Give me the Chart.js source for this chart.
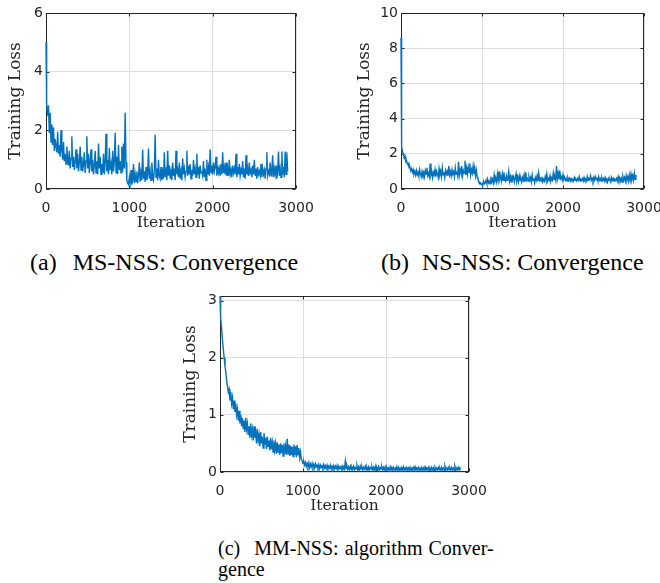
<!DOCTYPE html>
<html>
<head>
<meta charset="utf-8">
<script src="https://cdn.jsdelivr.net/npm/chart.js@4.4.1/dist/chart.umd.min.js"></script>
<style>
  html, body { margin: 0; padding: 0; background: #fff; }
  body { width: 660px; height: 583px; position: relative; overflow: hidden; }
  canvas { position: absolute; }
  .legenda { position: absolute; font-family: "Liberation Serif", "Times New Roman", serif; color: #000; white-space: nowrap; }
</style>
</head>
<body>
<canvas id="graficoMS" width="320" height="240" style="left:0px;top:0px;width:320px;height:240px"></canvas>
<canvas id="graficoNS" width="305" height="240" style="left:355px;top:0px;width:305px;height:240px"></canvas>
<canvas id="graficoMM" width="320" height="240" style="left:174px;top:283px;width:320px;height:240px"></canvas>

<div class="legenda" style="left:30px;top:250px;font-size:24px;line-height:24px">(a)<span style="margin-left:16px">MS-NSS: Convergence</span></div>
<div class="legenda" style="left:381px;top:250px;font-size:24px;line-height:24px">(b)<span style="margin-left:13px">NS-NSS: Convergence</span></div>
<div class="legenda" style="left:218px;top:538px;font-size:20px;line-height:21.3px">(c)<span style="margin-left:14px;word-spacing:1px">MM-NSS: algorithm Conver-</span><br>gence</div>

<script>
// amostras de iteração (comuns aos três gráficos)
const iteracoes = [
  0, 5, 10, 20, 30, 40, 50, 60, 70, 80,
  90, 100, 110, 120, 130, 140, 150, 160, 170, 180,
  190, 200, 210, 220, 230, 240, 250, 260, 270, 280,
  290, 300, 310, 320, 330, 340, 350, 360, 370, 380,
  390, 400, 410, 420, 430, 440, 450, 460, 470, 480,
  490, 500, 510, 520, 530, 540, 550, 560, 570, 580,
  590, 600, 610, 620, 630, 640, 650, 660, 670, 680,
  690, 700, 710, 720, 730, 740, 750, 760, 770, 780,
  790, 800, 810, 820, 830, 840, 850, 860, 870, 880,
  890, 900, 910, 920, 930, 940, 950, 960, 970, 980,
  990, 1000, 1010, 1020, 1030, 1040, 1050, 1060, 1070, 1080,
  1090, 1100, 1110, 1120, 1130, 1140, 1150, 1160, 1170, 1180,
  1190, 1200, 1210, 1220, 1230, 1240, 1250, 1260, 1270, 1280,
  1290, 1300, 1310, 1320, 1330, 1340, 1350, 1360, 1370, 1380,
  1390, 1400, 1410, 1420, 1430, 1440, 1450, 1460, 1470, 1480,
  1490, 1500, 1510, 1520, 1530, 1540, 1550, 1560, 1570, 1580,
  1590, 1600, 1610, 1620, 1630, 1640, 1650, 1660, 1670, 1680,
  1690, 1700, 1710, 1720, 1730, 1740, 1750, 1760, 1770, 1780,
  1790, 1800, 1810, 1820, 1830, 1840, 1850, 1860, 1870, 1880,
  1890, 1900, 1910, 1920, 1930, 1940, 1950, 1960, 1970, 1980,
  1990, 2000, 2010, 2020, 2030, 2040, 2050, 2060, 2070, 2080,
  2090, 2100, 2110, 2120, 2130, 2140, 2150, 2160, 2170, 2180,
  2190, 2200, 2210, 2220, 2230, 2240, 2250, 2260, 2270, 2280,
  2290, 2300, 2310, 2320, 2330, 2340, 2350, 2360, 2370, 2380,
  2390, 2400, 2410, 2420, 2430, 2440, 2450, 2460, 2470, 2480,
  2490, 2500, 2510, 2520, 2530, 2540, 2550, 2560, 2570, 2580,
  2590, 2600, 2610, 2620, 2630, 2640, 2650, 2660, 2670, 2680,
  2690, 2700, 2710, 2720, 2730, 2740, 2750, 2760, 2770, 2780,
  2790, 2800, 2810, 2820, 2830, 2840, 2850, 2860, 2870, 2880,
  2890, 2900
];

// (a) MS-NSS
const perdaMS = [
  5.0, 3.3, 2.9, 2.5, 2.85, 1.9, 2.6, 1.6, 2.2, 1.5,
  2.1, 1.3, 1.7, 1.45, 1.25, 1.95, 1.2, 1.5, 1.1, 2.0,
  1.3, 1.0, 1.6, 0.95, 1.2, 0.85, 1.45, 1.05, 0.8, 1.3,
  0.7, 1.05, 1.8, 0.75, 1.1, 0.65, 0.95, 1.35, 0.7, 1.2,
  0.6, 0.9, 1.45, 0.65, 1.1, 0.6, 0.85, 1.25, 0.55, 0.95,
  1.8, 0.7, 1.2, 0.55, 0.9, 1.35, 0.6, 1.0, 0.5, 0.8,
  1.3, 0.55, 0.95, 0.5, 1.55, 0.7, 1.1, 0.5, 0.85, 0.55,
  1.2, 0.5, 0.9, 1.88, 0.6, 1.0, 0.5, 1.4, 0.65, 0.85,
  0.5, 1.3, 0.6, 0.95, 1.92, 0.55, 1.1, 0.5, 1.5, 0.65,
  0.95, 0.55, 1.45, 0.6, 1.55, 0.7, 2.6, 0.9, 0.3, 0.2,
  0.15, 0.4, 0.2, 0.65, 0.15, 0.3, 0.85, 0.2, 0.5, 0.25,
  0.6, 0.2, 0.45, 0.9, 0.25, 0.55, 0.3, 1.35, 0.35, 0.6,
  0.25, 0.75, 0.3, 0.5, 1.38, 0.35, 0.6, 0.3, 0.9, 0.4,
  0.3, 0.65, 1.85, 0.4, 0.7, 0.3, 1.0, 0.45, 0.35, 0.75,
  0.3, 0.55, 0.35, 1.25, 0.4, 0.6, 0.3, 1.3, 0.45, 0.8,
  0.35, 0.6, 0.3, 0.9, 0.45, 0.7, 0.3, 1.3, 0.5, 0.65,
  0.4, 0.9, 0.35, 0.6, 0.3, 1.05, 0.5, 0.7, 0.4, 0.6,
  1.3, 0.45, 0.8, 0.5, 0.85, 0.35, 0.65, 0.45, 1.0, 0.5,
  0.7, 0.4, 1.2, 0.5, 0.75, 0.35, 0.8, 0.55, 0.6, 0.45,
  0.95, 0.4, 0.7, 0.3, 1.0, 0.5, 0.75, 0.45, 1.35, 0.55,
  0.8, 0.5, 0.9, 0.6, 0.75, 1.1, 0.45, 0.8, 0.55, 0.7,
  0.45, 0.85, 0.5, 1.25, 0.55, 0.75, 0.5, 0.9, 0.45, 0.7,
  0.45, 1.0, 0.5, 0.65, 0.4, 0.8, 0.55, 0.7, 0.5, 1.2,
  0.4, 0.75, 0.5, 0.85, 0.45, 0.65, 0.5, 0.95, 0.4, 0.7,
  0.35, 1.15, 0.5, 0.7, 0.45, 0.9, 0.55, 0.65, 0.4, 0.8,
  0.5, 1.0, 0.45, 0.7, 0.35, 0.75, 0.5, 0.6, 0.45, 0.85,
  0.4, 0.7, 0.5, 0.65, 0.35, 0.7, 1.25, 0.45, 0.6, 0.5,
  0.9, 0.45, 0.65, 1.15, 0.4, 0.7, 0.5, 0.8, 0.35, 0.6,
  1.28, 0.45, 0.7, 0.4, 1.28, 0.5, 0.75, 0.4, 1.28, 0.5,
  1.25, 0.6
];

// (b) NS-NSS
const perdaNS = [
  8.6, 4.5, 2.4, 2.1, 2.0, 1.75, 1.85, 1.55, 1.6, 1.4,
  1.45, 1.2, 1.25, 1.05, 1.15, 0.95, 1.1, 0.85, 1.0, 0.8,
  1.05, 0.8, 0.95, 0.75, 1.1, 0.85, 0.7, 1.0, 0.8, 0.95,
  0.7, 1.05, 0.85, 1.2, 0.75, 0.9, 0.7, 1.45, 0.8, 1.0,
  0.65, 0.95, 0.8, 1.1, 0.7, 1.0, 0.85, 0.65, 1.15, 0.8,
  1.0, 0.7, 1.2, 0.8, 0.95, 0.65, 1.05, 0.85, 1.0, 0.75,
  1.3, 0.8, 1.0, 0.75, 1.1, 0.85, 0.95, 0.7, 1.2, 0.85,
  1.0, 0.75, 1.55, 0.8, 1.1, 0.9, 1.3, 0.75, 1.05, 0.9,
  1.6, 0.8, 1.2, 0.85, 1.25, 0.95, 1.45, 0.8, 1.1, 0.9,
  1.3, 0.85, 1.2, 0.75, 1.05, 0.7, 0.55, 0.45, 0.3, 0.35,
  0.25, 0.3, 0.25, 0.45, 0.3, 0.35, 0.5, 0.3, 0.55, 0.35,
  0.45, 0.3, 0.7, 0.4, 0.55, 0.35, 0.8, 0.45, 0.6, 0.4,
  0.85, 0.5, 1.0, 0.55, 0.7, 0.45, 0.85, 0.5, 0.95, 0.55,
  0.45, 0.75, 0.5, 0.65, 1.0, 0.45, 0.7, 0.4, 0.8, 0.55,
  0.7, 0.4, 0.6, 0.85, 0.45, 0.65, 0.4, 0.75, 0.5, 0.6,
  0.4, 0.65, 0.5, 0.8, 0.4, 0.95, 0.5, 0.6, 0.45, 0.7,
  0.5, 0.65, 0.4, 0.8, 0.5, 0.6, 0.35, 0.65, 0.5, 0.75,
  0.45, 0.9, 0.5, 0.6, 0.45, 0.7, 0.4, 0.55, 0.45, 0.7,
  0.5, 0.85, 0.45, 0.6, 0.5, 0.75, 0.45, 0.6, 0.5, 0.9,
  0.55, 0.7, 0.5, 1.3, 0.6, 0.9, 0.55, 1.05, 0.6, 0.7,
  0.5, 0.8, 0.55, 0.65, 0.5, 0.6, 0.45, 0.65, 0.5, 0.6,
  0.45, 0.6, 0.5, 0.55, 0.45, 0.65, 0.5, 0.55, 0.45, 0.6,
  0.5, 0.7, 0.45, 0.55, 0.5, 0.6, 0.45, 0.65, 0.5, 0.55,
  0.45, 0.7, 0.5, 0.6, 0.55, 0.75, 0.5, 0.6, 0.45, 0.65,
  0.5, 0.7, 0.55, 0.6, 0.45, 0.7, 0.5, 0.6, 0.45, 0.65,
  0.5, 0.6, 0.45, 0.65, 0.5, 0.55, 0.4, 0.6, 0.5, 0.55,
  0.4, 0.65, 0.5, 0.6, 0.45, 0.55, 0.5, 0.6, 0.45, 0.7,
  0.5, 0.65, 0.45, 0.6, 0.4, 0.7, 0.5, 0.65, 0.45, 0.75,
  0.5, 0.7, 0.45, 0.8, 0.5, 0.85, 0.55, 0.75, 0.5, 0.9,
  0.55, 0.8
];

// (c) MM-NSS
const perdaMM = [
  3.08, 2.9, 2.7, 2.5, 2.3, 2.15, 2.0, 1.85, 1.75, 1.6,
  1.5, 1.4, 1.45, 1.25, 1.4, 1.2, 1.3, 1.1, 1.25, 1.05,
  1.2, 1.0, 1.1, 0.9, 1.07, 0.85, 1.0, 0.8, 0.95, 0.75,
  0.9, 0.7, 0.95, 0.75, 0.85, 0.65, 0.8, 0.6, 0.85, 0.65,
  0.75, 0.55, 0.8, 0.6, 0.7, 0.5, 0.75, 0.55, 0.65, 0.45,
  0.7, 0.5, 0.62, 0.42, 0.68, 0.48, 0.6, 0.4, 0.62, 0.45,
  0.55, 0.38, 0.6, 0.4, 0.52, 0.35, 0.55, 0.38, 0.5, 0.32,
  0.52, 0.35, 0.48, 0.3, 0.5, 0.33, 0.47, 0.28, 0.5, 0.32,
  0.45, 0.3, 0.58, 0.32, 0.48, 0.28, 0.46, 0.3, 0.44, 0.27,
  0.48, 0.3, 0.45, 0.26, 0.47, 0.3, 0.42, 0.25, 0.35, 0.22,
  0.2, 0.15, 0.18, 0.12, 0.17, 0.1, 0.15, 0.09, 0.16, 0.08,
  0.14, 0.09, 0.15, 0.08, 0.13, 0.07, 0.14, 0.09, 0.12, 0.07,
  0.13, 0.06, 0.12, 0.08, 0.11, 0.06, 0.13, 0.07, 0.11, 0.06,
  0.12, 0.05, 0.1, 0.07, 0.12, 0.05, 0.1, 0.06, 0.11, 0.05,
  0.1, 0.06, 0.11, 0.04, 0.1, 0.06, 0.09, 0.05, 0.1, 0.04,
  0.09, 0.05, 0.19, 0.06, 0.1, 0.04, 0.09, 0.05, 0.1, 0.04,
  0.09, 0.05, 0.1, 0.04, 0.08, 0.05, 0.11, 0.04, 0.09, 0.03,
  0.1, 0.05, 0.09, 0.03, 0.08, 0.05, 0.1, 0.04, 0.08, 0.03,
  0.09, 0.04, 0.08, 0.05, 0.09, 0.03, 0.08, 0.04, 0.1, 0.03,
  0.08, 0.04, 0.09, 0.03, 0.08, 0.05, 0.09, 0.03, 0.08, 0.04,
  0.09, 0.03, 0.08, 0.04, 0.07, 0.03, 0.09, 0.04, 0.08, 0.03,
  0.08, 0.04, 0.07, 0.03, 0.09, 0.04, 0.08, 0.02, 0.07, 0.04,
  0.08, 0.03, 0.09, 0.04, 0.07, 0.03, 0.08, 0.04, 0.07, 0.02,
  0.08, 0.04, 0.07, 0.03, 0.08, 0.04, 0.09, 0.03, 0.07, 0.04,
  0.08, 0.03, 0.07, 0.04, 0.08, 0.02, 0.07, 0.04, 0.09, 0.03,
  0.07, 0.04, 0.08, 0.03, 0.07, 0.04, 0.08, 0.02, 0.07, 0.03,
  0.08, 0.04, 0.07, 0.03, 0.08, 0.04, 0.07, 0.03, 0.08, 0.04,
  0.07, 0.03, 0.1, 0.04, 0.07, 0.03, 0.08, 0.04, 0.07, 0.03,
  0.08, 0.04, 0.07, 0.03, 0.1, 0.04, 0.07, 0.03, 0.08, 0.04,
  0.07, 0.05
];

const COR_EIXO = '#262626';
const COR_GRADE = '#dedede';

// caixa fechada com marcas de escala para dentro (estilo MATLAB)
const caixaMatlab = {
    id: 'caixaMatlab',
    beforeDatasetsDraw(chart) {
        const { ctx, chartArea: a, scales } = chart;
        const esq = Math.round(a.left) + 0.5, dir = Math.round(a.right) - 0.5;
        const topo = Math.round(a.top) + 0.5, base = Math.round(a.bottom) - 0.5;
        const tam = 3;
        ctx.save();
        ctx.strokeStyle = COR_EIXO;
        ctx.lineWidth = 1;
        ctx.strokeRect(esq, topo, dir - esq, base - topo);
        ctx.beginPath();
        scales.x.ticks.forEach(t => {
            const px = Math.round(scales.x.getPixelForValue(t.value)) + 0.5;
            ctx.moveTo(px, base); ctx.lineTo(px, base - tam);
            ctx.moveTo(px, topo); ctx.lineTo(px, topo + tam);
        });
        scales.y.ticks.forEach(t => {
            const py = Math.round(scales.y.getPixelForValue(t.value)) + 0.5;
            ctx.moveTo(esq, py); ctx.lineTo(esq + tam, py);
            ctx.moveTo(dir, py); ctx.lineTo(dir - tam, py);
        });
        ctx.stroke();
        ctx.restore();
    }
};

function criarGrafico(id, valores, yMax, yPasso, padDireita, padTitulo) {
    const ctx = document.getElementById(id).getContext('2d');
    return new Chart(ctx, {
        type: 'line',
        data: {
            datasets: [{
                data: iteracoes.map((it, i) => ({ x: it, y: valores[i] })),
                borderColor: '#0072BD',
                borderWidth: 1.4,
                pointRadius: 0,
                fill: false,
                tension: 0,
                clip: { left: 2, top: 0, right: 0, bottom: 0 }
            }]
        },
        options: {
            responsive: false,
            animation: false,
            devicePixelRatio: 1,
            events: [],
            layout: { padding: { left: 0, right: padDireita, top: 13, bottom: 0 } },
            plugins: { legend: { display: false }, tooltip: { enabled: false } },
            scales: {
                x: {
                    type: 'linear',
                    min: 0,
                    max: 3000,
                    ticks: {
                        stepSize: 1000,
                        padding: 11,
                        color: COR_EIXO,
                        maxRotation: 0,
                        autoSkip: false,
                        includeBounds: false,
                        font: { family: 'DejaVu Sans', size: 14 },
                        callback: v => String(v)
                    },
                    grid: { color: COR_GRADE, drawTicks: false },
                    border: { display: false },
                    title: {
                        display: true,
                        text: 'Iteration',
                        color: COR_EIXO,
                        font: { family: 'DejaVu Serif', size: 15.5, lineHeight: 1 },
                        padding: { top: 0, bottom: 9 }
                    },
                    afterFit(escala) {
                        escala.height = 51;
                        escala.paddingLeft = 0;
                        escala.paddingRight = 0;
                    }
                },
                y: {
                    type: 'linear',
                    min: 0,
                    max: yMax,
                    ticks: {
                        stepSize: yPasso,
                        padding: 3,
                        color: COR_EIXO,
                        includeBounds: false,
                        font: { family: 'DejaVu Sans', size: 14 },
                        callback: v => String(v)
                    },
                    grid: { color: COR_GRADE, drawTicks: false },
                    border: { display: false },
                    title: {
                        display: true,
                        text: 'Training Loss',
                        color: COR_EIXO,
                        font: { family: 'DejaVu Serif', size: 17, lineHeight: 1 },
                        padding: { top: padTitulo, bottom: 0 }
                    },
                    afterFit(escala) {
                        escala.width = 46;
                        escala.paddingTop = 0;
                        escala.paddingBottom = 0;
                    }
                }
            }
        },
        plugins: [caixaMatlab]
    });
}

criarGrafico('graficoMS', perdaMS, 6, 2, 24, 7);
criarGrafico('graficoNS', perdaNS, 10, 2, 16, 1);
criarGrafico('graficoMM', perdaMM, 3.08, 1, 25, 8);
</script>
</body>
</html>
